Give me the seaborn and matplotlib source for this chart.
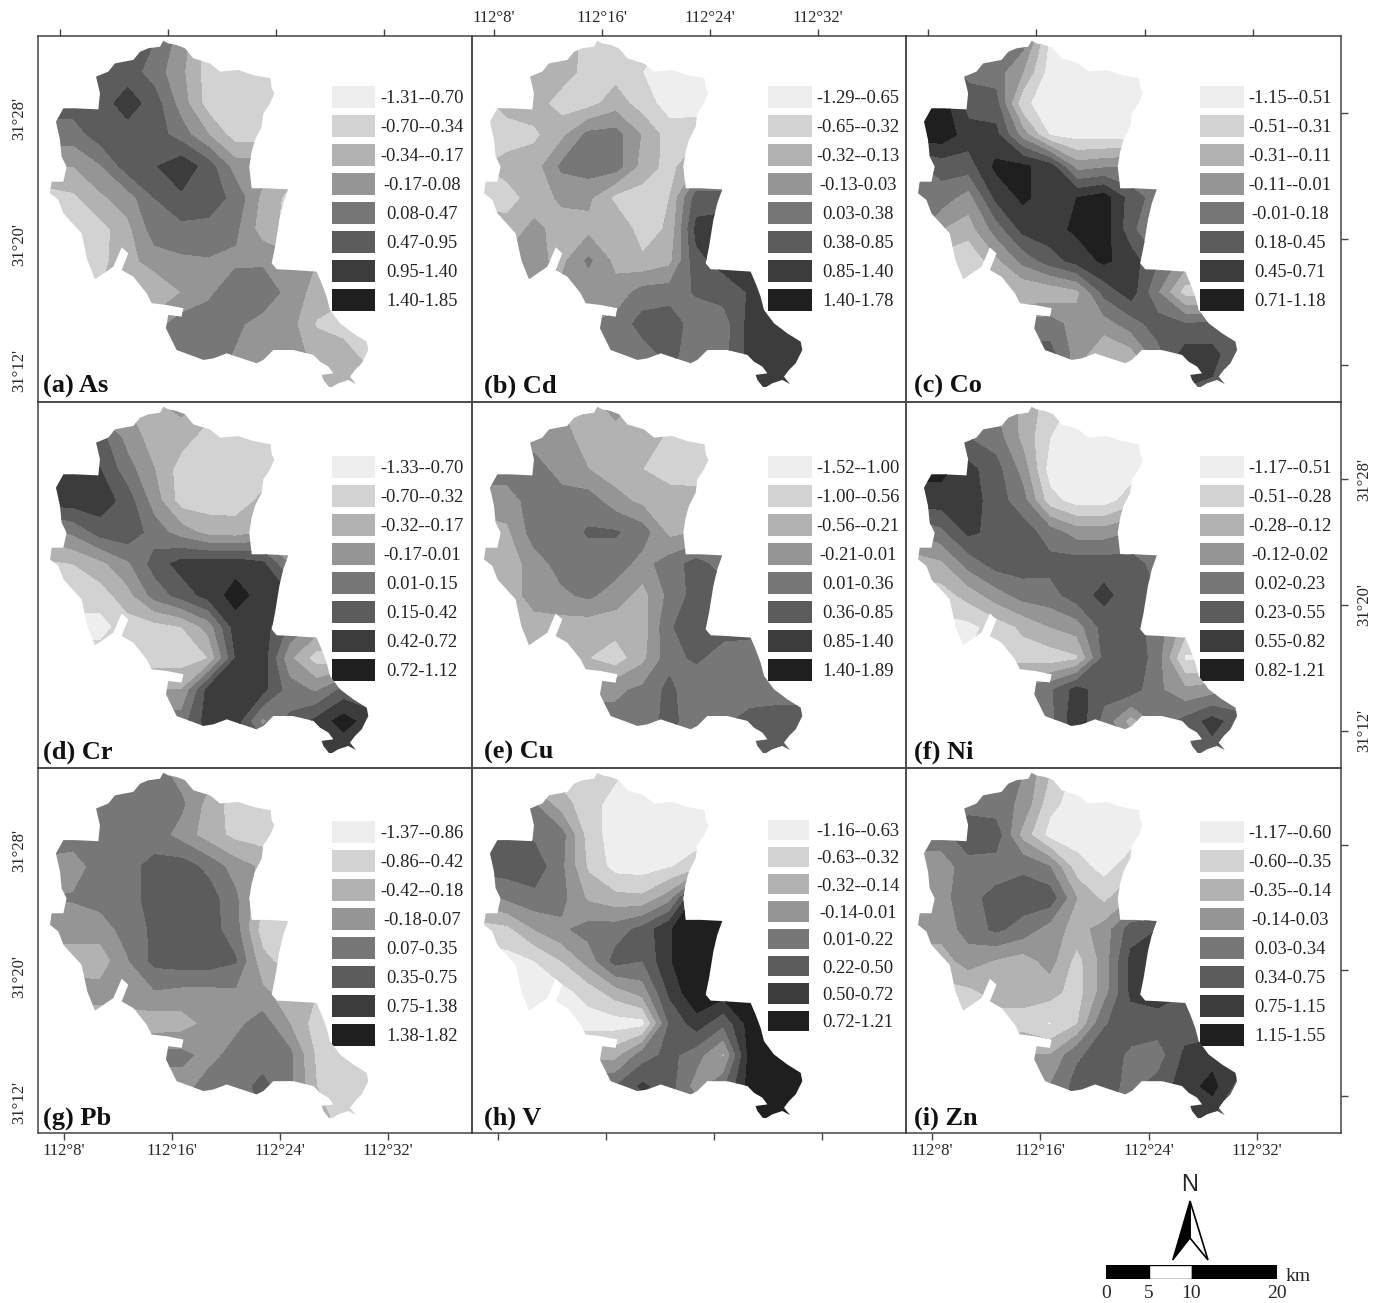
import numpy as np
import seaborn as sns
import matplotlib.pyplot as plt
from matplotlib.patches import Polygon

sns.set_style("white")
plt.rcParams['font.family'] = ['Liberation Serif', 'DejaVu Serif']

# outline of the study area, minutes past 112 deg E and 31 deg N
OUTLINE_LON = [15.65, 16.02, 16.64, 17.26, 17.88, 19.11, 19.85, 21.21, 22.32, 23.60, 23.68, 23.88, 23.56, 23.06,
               22.94, 22.44, 22.20, 22.02, 22.20, 23.31, 24.91, 24.54, 24.25, 23.93, 23.68, 24.05, 25.04, 27.01,
               27.38, 27.75, 28.00, 28.74, 29.73, 30.72, 30.84, 30.35, 29.85, 29.48, 29.93, 29.36, 28.62, 28.00,
               27.51, 27.38, 28.25, 27.88, 27.26, 26.77, 25.28, 23.80, 23.06, 22.57, 21.46, 20.35, 19.36, 18.62,
               17.63, 16.64, 16.15, 15.85, 16.02, 17.01, 17.14, 15.90, 14.79, 14.42, 13.43, 12.57, 13.06, 12.57,
               11.95, 10.59, 10.02, 9.60, 8.25, 7.88, 7.26, 7.38, 8.25, 8.49, 8.12, 8.00, 7.70, 8.25, 9.11, 10.84,
               10.96, 10.67, 11.58, 12.07, 13.43, 13.93, 14.54, 15.41]
OUTLINE_LAT = [32.97, 32.80, 32.70, 32.49, 31.85, 31.53, 31.01, 31.11, 30.79, 30.58, 29.95, 29.63, 28.99, 28.36,
               27.51, 26.67, 25.93, 24.97, 23.60, 23.60, 23.53, 22.65, 21.59, 19.89, 18.84, 18.46, 18.42, 18.31,
               17.57, 16.72, 15.88, 15.03, 14.39, 13.86, 13.33, 12.49, 12.06, 11.64, 11.17, 11.43, 11.22, 10.90,
               11.43, 11.75, 11.85, 12.28, 12.59, 13.02, 13.33, 13.33, 12.70, 12.49, 12.80, 13.12, 12.80, 12.70,
               13.02, 13.33, 14.18, 14.71, 15.56, 15.45, 15.98, 16.19, 16.30, 16.93, 17.99, 18.41, 19.47, 19.85,
               18.62, 17.82, 19.05, 20.74, 22.01, 22.86, 23.28, 24.02, 24.02, 24.97, 25.61, 26.67, 27.83, 28.68,
               28.68, 28.61, 29.63, 30.69, 31.01, 31.53, 31.75, 32.27, 32.49, 32.59]

GRID_LON = [7, 9, 11, 13, 15, 17, 19, 21, 23, 25, 27, 29, 31]
GRID_LAT = [33, 31, 29, 27, 25, 23, 21, 19, 17, 15, 13, 11]

# class value read at each grid node (class k of the legend covers k-1..k)
AS = [[5.5, 5.5, 5.5, 5.5, 5.0, 3.5, 1.5, 1.5, 1.5, 1.5, 1.5, 1.5, 1.5],
      [5.5, 5.5, 5.5, 5.5, 4.5, 3.2, 1.5, 1.5, 1.5, 1.5, 1.5, 1.5, 1.5],
      [5.5, 5.5, 5.5, 6.5, 5.5, 3.5, 1.5, 1.5, 1.5, 1.5, 1.5, 1.5, 1.5],
      [4.5, 4.5, 5.5, 5.5, 5.5, 4.5, 3.0, 1.5, 1.5, 1.5, 1.5, 1.5, 1.5],
      [3.0, 3.0, 3.9, 5.5, 5.9, 6.7, 5.5, 3.5, 3.5, 2.5, 2.5, 2.5, 2.5],
      [1.5, 1.8, 2.8, 3.5, 5.0, 5.8, 5.5, 4.7, 2.7, 1.7, 1.5, 1.5, 1.5],
      [1.5, 1.5, 1.6, 2.7, 4.5, 4.7, 4.7, 4.2, 2.5, 1.6, 1.5, 1.5, 1.5],
      [1.5, 1.5, 1.7, 2.6, 3.5, 3.8, 3.9, 3.8, 3.8, 3.5, 3.0, 3.0, 3.0],
      [2.0, 2.0, 2.0, 2.2, 2.0, 3.0, 3.8, 4.6, 4.7, 3.6, 2.6, 2.2, 2.0],
      [3.0, 3.0, 3.0, 3.2, 3.5, 4.5, 4.5, 4.2, 3.6, 3.4, 1.9, 1.6, 1.5],
      [4.0, 4.0, 4.0, 4.2, 4.4, 4.5, 4.5, 3.9, 3.6, 3.6, 2.6, 2.4, 1.6],
      [4.0, 4.0, 4.0, 4.2, 4.4, 4.5, 4.5, 3.9, 3.6, 3.6, 2.5, 2.5, 2.5]]
CD = [[2.5, 2.5, 2.5, 2.5, 1.7, 1.6, 1.5, 0.8, 0.8, 0.8, 0.8, 0.8, 0.8],
      [2.5, 2.5, 2.5, 2.5, 1.6, 1.6, 1.0, 0.5, 0.5, 0.5, 0.5, 0.5, 0.5],
      [1.6, 2.4, 2.5, 1.5, 1.6, 2.5, 1.5, 0.5, 0.6, 0.5, 0.5, 0.5, 0.5],
      [1.5, 1.5, 1.8, 2.7, 4.3, 4.4, 2.9, 1.5, 1.5, 1.5, 1.5, 1.5, 1.5],
      [1.9, 2.4, 2.5, 4.2, 4.5, 4.5, 2.6, 1.6, 3.0, 3.0, 3.0, 3.0, 3.0],
      [1.7, 1.6, 2.4, 3.2, 3.2, 1.7, 1.5, 2.0, 5.5, 5.5, 5.5, 5.5, 5.5],
      [2.4, 2.4, 3.3, 2.5, 2.7, 3.0, 1.4, 2.2, 6.3, 6.5, 6.5, 6.5, 6.5],
      [3.2, 3.2, 3.3, 2.7, 4.2, 2.7, 2.2, 2.7, 5.7, 6.4, 6.5, 6.5, 6.5],
      [3.3, 3.3, 3.3, 3.3, 3.3, 3.4, 4.4, 4.5, 5.1, 5.4, 6.1, 6.5, 6.5],
      [4.0, 4.0, 4.0, 4.0, 4.0, 4.3, 5.4, 5.6, 4.4, 4.5, 6.4, 6.5, 6.5],
      [4.4, 4.4, 4.4, 4.4, 4.4, 4.4, 4.5, 5.3, 4.4, 4.6, 6.4, 6.5, 6.5],
      [4.5, 4.5, 4.5, 4.5, 4.5, 4.5, 4.5, 4.5, 4.5, 5.5, 6.5, 6.5, 6.5]]
CO = [[5.5, 5.5, 5.5, 5.5, 4.5, 0.8, 0.5, 0.5, 0.5, 0.5, 0.5, 0.5, 0.5],
      [5.5, 5.5, 4.7, 4.5, 3.0, 0.5, 0.5, 0.5, 0.5, 0.5, 0.5, 0.5, 0.5],
      [7.5, 7.5, 5.5, 5.4, 1.2, 0.5, 0.5, 0.5, 0.5, 0.5, 0.5, 0.5, 0.5],
      [7.6, 7.6, 6.5, 6.3, 3.5, 0.9, 0.5, 0.5, 0.5, 0.5, 0.5, 0.5, 0.5],
      [4.7, 5.4, 5.5, 7.2, 7.2, 6.5, 3.5, 3.8, 4.0, 4.0, 4.0, 4.0, 4.0],
      [4.5, 4.5, 3.5, 6.2, 7.2, 6.5, 7.0, 7.5, 5.5, 4.5, 4.5, 4.5, 4.5],
      [4.5, 3.0, 2.5, 4.4, 6.3, 6.6, 7.2, 7.5, 5.3, 3.5, 3.5, 3.5, 3.5],
      [1.5, 1.5, 1.0, 2.7, 4.3, 5.5, 6.4, 7.2, 6.5, 5.0, 3.5, 3.0, 3.0],
      [1.5, 1.5, 1.5, 2.0, 2.0, 2.2, 2.7, 5.3, 6.5, 4.0, 1.5, 1.5, 1.5],
      [4.5, 4.5, 4.5, 4.5, 4.5, 4.5, 3.5, 3.5, 4.5, 5.5, 5.0, 5.2, 5.0],
      [5.4, 5.4, 5.4, 5.4, 5.4, 5.4, 3.5, 2.0, 2.5, 4.6, 6.5, 6.4, 5.0],
      [5.4, 5.4, 5.4, 5.4, 5.4, 5.4, 3.5, 2.5, 4.0, 5.0, 6.0, 5.8, 5.5]]
CR = [[3.0, 3.0, 3.0, 3.0, 2.8, 3.3, 2.5, 1.6, 1.6, 1.6, 1.6, 1.6, 1.6],
      [6.0, 6.0, 5.4, 3.6, 2.5, 2.4, 1.5, 1.5, 1.5, 1.5, 1.5, 1.5, 1.5],
      [6.5, 6.5, 6.0, 4.4, 3.0, 1.5, 1.5, 1.5, 1.5, 1.5, 1.5, 1.5, 1.5],
      [6.5, 6.5, 6.6, 5.5, 3.5, 1.5, 1.5, 1.5, 2.2, 2.2, 2.2, 2.2, 2.2],
      [3.5, 4.2, 5.4, 5.7, 4.5, 3.5, 2.6, 2.5, 3.0, 3.0, 3.0, 3.0, 3.0],
      [1.8, 2.0, 2.7, 3.8, 5.4, 6.4, 6.6, 6.6, 6.2, 4.0, 4.0, 4.0, 4.0],
      [1.5, 1.5, 1.5, 2.6, 4.4, 5.4, 6.4, 7.4, 6.6, 6.0, 6.0, 6.0, 6.0],
      [0.6, 0.6, 0.6, 1.5, 1.6, 2.0, 3.4, 6.5, 6.5, 4.8, 3.5, 3.5, 3.5],
      [1.5, 1.5, 1.5, 1.5, 1.5, 1.5, 2.0, 6.0, 6.6, 3.2, 1.5, 1.5, 1.5],
      [3.0, 3.0, 3.0, 3.0, 3.0, 3.0, 6.4, 6.6, 6.3, 4.5, 3.8, 5.3, 5.3],
      [4.5, 4.5, 4.5, 4.5, 4.5, 4.5, 6.5, 6.5, 3.7, 5.2, 6.3, 7.5, 6.4],
      [5.0, 5.0, 5.0, 5.0, 5.0, 5.0, 6.0, 6.0, 6.0, 6.0, 6.0, 6.0, 6.0]]
CU = [[3.0, 3.0, 3.0, 3.0, 2.5, 3.4, 2.5, 2.5, 2.5, 2.0, 2.0, 2.0, 2.0],
      [3.5, 3.5, 3.5, 3.5, 2.4, 2.5, 2.5, 1.8, 1.5, 1.5, 1.5, 1.5, 1.5],
      [4.5, 4.5, 4.5, 3.5, 3.0, 2.4, 2.0, 1.5, 1.5, 1.5, 1.5, 1.5, 1.5],
      [3.5, 3.5, 4.5, 4.5, 4.5, 3.4, 2.7, 2.5, 2.4, 2.4, 2.4, 2.4, 2.4],
      [2.5, 2.8, 4.5, 4.5, 5.1, 5.1, 4.5, 2.7, 3.0, 3.0, 3.0, 3.0, 3.0],
      [2.4, 2.4, 3.5, 4.4, 4.5, 4.5, 3.6, 4.5, 5.4, 4.5, 4.5, 4.5, 4.5],
      [2.4, 2.4, 3.5, 3.8, 4.2, 3.5, 2.6, 4.3, 5.4, 5.5, 5.5, 5.5, 5.5],
      [2.5, 2.5, 2.5, 2.5, 2.4, 2.4, 2.4, 4.9, 5.5, 5.5, 5.5, 5.0, 5.0],
      [2.5, 2.5, 2.5, 2.5, 2.0, 1.4, 2.7, 4.6, 5.2, 4.4, 4.2, 4.0, 4.0],
      [3.8, 3.8, 3.8, 3.8, 3.8, 3.8, 4.2, 5.3, 4.0, 4.4, 4.4, 4.5, 4.5],
      [4.3, 4.3, 4.3, 4.3, 4.3, 4.3, 4.5, 5.3, 4.4, 4.8, 5.4, 5.5, 5.5],
      [4.5, 4.5, 4.5, 4.5, 4.5, 4.5, 4.5, 4.5, 4.5, 5.0, 5.5, 5.5, 5.5]]
NI = [[5.0, 5.0, 5.0, 4.0, 2.7, 1.5, 0.7, 0.5, 0.5, 0.5, 0.5, 0.5, 0.5],
      [5.5, 5.5, 5.0, 4.5, 2.7, 1.0, 0.5, 0.5, 0.5, 0.5, 0.5, 0.5, 0.5],
      [7.3, 7.3, 6.3, 5.4, 3.6, 0.5, 0.5, 0.5, 0.5, 0.5, 0.5, 0.5, 0.5],
      [6.5, 6.5, 6.5, 5.5, 4.4, 1.4, 0.5, 0.5, 1.5, 1.5, 1.5, 1.5, 1.5],
      [4.0, 4.7, 6.2, 5.7, 5.5, 4.5, 3.5, 3.5, 4.0, 4.0, 4.0, 4.0, 4.0],
      [2.5, 2.8, 4.4, 5.4, 5.5, 5.3, 5.5, 5.5, 5.5, 4.5, 4.5, 4.5, 4.5],
      [1.5, 1.5, 2.4, 3.5, 4.4, 4.6, 5.5, 6.3, 5.4, 5.0, 5.0, 5.0, 5.0],
      [0.7, 0.7, 0.7, 1.4, 2.2, 3.0, 3.5, 5.4, 5.5, 4.5, 2.5, 2.0, 2.0],
      [1.0, 1.0, 1.0, 1.2, 1.5, 1.4, 1.8, 5.3, 5.9, 4.4, 0.8, 0.8, 0.8],
      [4.5, 4.5, 4.5, 4.5, 4.5, 4.8, 6.4, 5.4, 5.5, 4.2, 3.2, 3.5, 4.0],
      [4.5, 4.5, 4.5, 4.5, 4.5, 4.6, 6.8, 4.6, 2.5, 4.4, 5.3, 6.4, 5.4],
      [4.5, 4.5, 4.5, 4.5, 4.5, 4.5, 5.2, 4.5, 4.5, 4.5, 5.0, 5.5, 5.5]]
PB = [[4.5, 4.5, 4.5, 4.5, 4.5, 3.5, 3.5, 3.4, 2.5, 2.5, 2.5, 2.5, 2.5],
      [4.5, 4.5, 4.5, 4.5, 4.4, 4.2, 2.6, 1.5, 1.5, 1.5, 1.5, 1.5, 1.5],
      [4.5, 4.5, 4.5, 4.5, 4.5, 3.6, 2.5, 1.7, 1.5, 1.5, 1.5, 1.5, 1.5],
      [3.7, 3.5, 4.5, 4.7, 5.3, 5.5, 4.7, 3.5, 2.8, 2.8, 2.8, 2.8, 2.8],
      [4.0, 4.1, 4.4, 4.6, 5.4, 5.5, 5.5, 4.2, 2.0, 2.0, 2.0, 2.0, 2.0],
      [3.4, 3.4, 3.5, 4.4, 5.2, 5.5, 5.5, 4.4, 1.5, 1.5, 1.5, 1.5, 1.5],
      [2.5, 2.5, 2.4, 3.9, 5.3, 5.5, 5.5, 5.1, 2.3, 1.5, 1.5, 1.5, 1.5],
      [3.4, 3.4, 3.4, 3.6, 3.9, 3.7, 3.7, 3.8, 3.2, 2.5, 2.0, 2.0, 2.0],
      [2.4, 2.4, 2.4, 2.4, 2.4, 2.5, 3.3, 3.7, 4.5, 3.0, 1.5, 1.5, 1.5],
      [4.3, 4.3, 4.3, 4.3, 4.3, 4.3, 3.6, 4.4, 4.5, 4.3, 1.8, 1.5, 1.5],
      [3.5, 3.5, 3.5, 3.5, 3.5, 3.5, 4.5, 4.5, 5.3, 4.3, 2.0, 1.5, 1.5],
      [4.0, 4.0, 4.0, 4.0, 4.0, 4.0, 4.5, 4.5, 5.0, 4.0, 2.5, 1.5, 1.5]]
V = [[1.5, 1.5, 1.5, 1.5, 1.5, 1.2, 0.5, 0.5, 0.5, 0.5, 0.5, 0.5, 0.5],
     [4.0, 4.0, 4.0, 2.4, 1.4, 0.6, 0.5, 0.5, 0.5, 0.5, 0.5, 0.5, 0.5],
     [5.6, 5.6, 4.8, 4.4, 1.5, 0.5, 0.5, 0.5, 0.5, 0.5, 0.5, 0.5, 0.5],
     [5.5, 5.5, 5.6, 4.2, 1.8, 0.6, 0.5, 0.9, 1.5, 1.5, 1.5, 1.5, 1.5],
     [3.5, 4.2, 4.7, 4.3, 2.8, 2.3, 2.2, 3.5, 7.5, 7.5, 7.5, 7.5, 7.5],
     [1.5, 1.7, 3.0, 3.8, 4.4, 4.5, 5.3, 6.9, 7.9, 7.5, 7.5, 7.5, 7.5],
     [0.6, 0.6, 1.0, 2.0, 3.4, 5.4, 5.0, 6.9, 7.9, 7.5, 7.5, 7.5, 7.5],
     [0.5, 0.5, 0.5, 0.6, 1.4, 2.5, 3.4, 6.2, 7.9, 7.5, 7.5, 7.5, 7.5],
     [0.5, 0.5, 0.5, 0.5, 0.5, 0.5, 0.6, 5.1, 6.5, 5.2, 7.5, 7.5, 7.5],
     [2.6, 2.6, 2.6, 2.6, 2.6, 2.6, 4.5, 5.3, 4.4, 2.8, 7.5, 7.5, 7.5],
     [5.0, 5.0, 5.0, 5.0, 5.0, 5.0, 6.2, 5.4, 3.5, 4.8, 7.5, 7.5, 7.5],
     [5.0, 5.0, 5.0, 5.0, 5.0, 5.0, 5.0, 5.0, 5.0, 6.0, 7.5, 7.5, 7.5]]
ZN = [[4.5, 4.5, 4.5, 4.5, 4.0, 2.0, 0.7, 0.5, 0.5, 0.5, 0.5, 0.5, 0.5],
      [4.5, 4.5, 4.5, 4.4, 3.8, 1.3, 0.5, 0.5, 0.5, 0.5, 0.5, 0.5, 0.5],
      [4.5, 4.5, 5.8, 5.6, 2.6, 0.6, 0.5, 0.5, 0.5, 0.5, 0.5, 0.5, 0.5],
      [3.5, 3.5, 4.5, 4.5, 4.8, 4.0, 1.4, 0.6, 1.5, 1.5, 1.5, 1.5, 1.5],
      [3.5, 3.6, 4.7, 5.3, 5.5, 5.6, 3.0, 1.7, 3.0, 3.0, 3.0, 3.0, 3.0],
      [3.4, 3.4, 4.4, 5.2, 4.6, 3.5, 2.6, 3.4, 5.5, 6.0, 6.0, 6.0, 6.0],
      [2.5, 2.5, 3.5, 2.9, 2.5, 3.4, 1.6, 3.4, 6.3, 6.5, 6.5, 6.5, 6.5],
      [1.7, 1.7, 1.7, 2.4, 2.4, 2.4, 1.5, 3.5, 6.2, 6.5, 6.0, 6.0, 6.0],
      [1.6, 1.6, 1.6, 1.6, 1.6, 0.9, 1.9, 4.9, 5.5, 5.5, 5.5, 5.5, 5.5],
      [3.0, 3.0, 3.0, 3.0, 3.0, 3.0, 4.8, 5.5, 4.8, 4.5, 6.2, 6.5, 6.5],
      [4.0, 4.0, 4.0, 4.0, 4.0, 4.0, 5.4, 5.4, 4.7, 5.4, 6.5, 7.4, 5.5],
      [4.0, 4.0, 4.0, 4.0, 4.0, 4.0, 5.0, 5.0, 5.0, 5.5, 6.0, 6.0, 5.5]]

PANEL_NAMES = ["(a) As", "(b) Cd", "(c) Co", "(d) Cr", "(e) Cu", "(f) Ni", "(g) Pb", "(h) V", "(i) Zn"]
PANEL_GRIDS = [AS, CD, CO, CR, CU, NI, PB, V, ZN]
LEGENDS = [
    ["-1.31--0.70", "-0.70--0.34", "-0.34--0.17", "-0.17-0.08", "0.08-0.47", "0.47-0.95", "0.95-1.40", "1.40-1.85"],
    ["-1.29--0.65", "-0.65--0.32", "-0.32--0.13", "-0.13-0.03", "0.03-0.38", "0.38-0.85", "0.85-1.40", "1.40-1.78"],
    ["-1.15--0.51", "-0.51--0.31", "-0.31--0.11", "-0.11--0.01", "-0.01-0.18", "0.18-0.45", "0.45-0.71", "0.71-1.18"],
    ["-1.33--0.70", "-0.70--0.32", "-0.32--0.17", "-0.17-0.01", "0.01-0.15", "0.15-0.42", "0.42-0.72", "0.72-1.12"],
    ["-1.52--1.00", "-1.00--0.56", "-0.56--0.21", "-0.21-0.01", "0.01-0.36", "0.36-0.85", "0.85-1.40", "1.40-1.89"],
    ["-1.17--0.51", "-0.51--0.28", "-0.28--0.12", "-0.12-0.02", "0.02-0.23", "0.23-0.55", "0.55-0.82", "0.82-1.21"],
    ["-1.37--0.86", "-0.86--0.42", "-0.42--0.18", "-0.18-0.07", "0.07-0.35", "0.35-0.75", "0.75-1.38", "1.38-1.82"],
    ["-1.16--0.63", "-0.63--0.32", "-0.32--0.14", "-0.14-0.01", "0.01-0.22", "0.22-0.50", "0.50-0.72", "0.72-1.21"],
    ["-1.17--0.60", "-0.60--0.35", "-0.35--0.14", "-0.14-0.03", "0.03-0.34", "0.34-0.75", "0.75-1.15", "1.15-1.55"],
]

LON_TICKS = [8, 16, 24, 32]
LON_LABELS = ["112°8'", "112°16'", "112°24'", "112°32'"]
LAT_TICKS = [28, 20, 12]
LAT_LABELS = ["31°28'", "31°20'", "31°12'"]

SCALE_KM = [0, 5, 10, 20]
SCALE_FILL = ["black", "white", "black"]

GREYS = sns.color_palette(["#eeeeee", "#d2d2d2", "#b2b2b2", "#959595", "#777777", "#5c5c5c", "#3c3c3c", "#1f1f1f"])
FRAME = "#444444"
W, H = 1380, 1303


def px_axes(x0, y0, x1, y1):
    return fig.add_axes([x0 / W, 1 - y1 / H, (x1 - x0) / W, (y1 - y0) / H])


fig = plt.figure(figsize=(13.8, 13.03), dpi=100)
col_x = [38, 472, 906, 1341]
row_y = [36, 402, 768, 1133]
legend_tops = [49, 53, 52]

for i, (name, grid, labels) in enumerate(zip(PANEL_NAMES, PANEL_GRIDS, LEGENDS)):
    row, col = divmod(i, 3)
    ax = px_axes(col_x[col], row_y[row], col_x[col + 1], row_y[row + 1])
    ax.set_zorder(2)
    ax.patch.set_visible(False)
    ax.set_xlim(6.37, 38.52)
    ax.set_ylim(10.03, 33.27)
    poly = Polygon(np.column_stack([OUTLINE_LON, OUTLINE_LAT]), closed=True, fc="none", ec="none",
                   transform=ax.transData)
    ax.add_patch(poly)
    cs = ax.contourf(GRID_LON, GRID_LAT, np.array(grid), levels=np.arange(9), colors=GREYS)
    cs.set_clip_path(poly)

    # ticks only on the outer sides
    ax.tick_params(which="both", length=5, width=1, color=FRAME, labelsize=12, pad=2.5)
    ax.set_xticks([])
    ax.set_yticks([])
    if row == 0:
        ax.xaxis.tick_top()
        ax.set_xticks(LON_TICKS)
        ax.set_xticklabels(LON_LABELS if col == 1 else [])
    if row == 2:
        ax.xaxis.tick_bottom()
        ax.set_xticks([t + 0.3 for t in LON_TICKS])
        ax.set_xticklabels(LON_LABELS if col != 1 else [])
    if col == 0:
        ax.set_yticks(LAT_TICKS)
        ax.set_yticklabels(LAT_LABELS if row != 1 else [], rotation=90, va="center")
    if col == 2:
        ax.yaxis.tick_right()
        ax.tick_params(axis="y", pad=6)
        ax.set_yticks([t + 0.38 for t in LAT_TICKS])
        ax.set_yticklabels(LAT_LABELS if row == 1 else [], rotation=90, va="center")
    for spine in ax.spines.values():
        spine.set_visible(True)
        spine.set_color(FRAME)
        spine.set_linewidth(1.1)

    pw = col_x[col + 1] - col_x[col]
    ph = row_y[row + 1] - row_y[row]
    ax.text([5, 12, 8][col] / pw, 1 - 357 / ph, name, transform=ax.transAxes, fontsize=19,
            fontweight="bold", va="baseline", ha="left", color="#111111")

    # legend swatches
    top = legend_tops[row]
    step = 29
    sx0, sx1 = [293, 295, 293][col], [336, 339, 337][col]
    cx = [384, 386, 384][col]
    if name == "(h) V":
        top, step, sx1 = 51, 27.3, 336
    lax = px_axes(col_x[col] + sx0 - 3.5, row_y[row] + top - 3.5,
                  col_x[col] + sx1 + 3.5, row_y[row] + top - 3.5 + 8 * step)
    lax.set_zorder(1)
    sns.heatmap(np.arange(8).reshape(-1, 1), cmap=GREYS, cbar=False, linewidths=5, linecolor="white",
                xticklabels=False, yticklabels=False, ax=lax)
    for j, lab in enumerate(labels):
        ax.text(cx / pw, 1 - (top - 1 + (j + 0.5) * step) / ph, lab, transform=ax.transAxes,
                fontsize=13.3, ha="center", va="center", color="#222222")

# scale bar, axis runs in km
sax = px_axes(1106, 1265, 1277, 1279)
sax.barh([0] * 3, np.diff(SCALE_KM), left=SCALE_KM[:-1], height=1, color=SCALE_FILL, edgecolor="black", linewidth=1)
sax.set_xlim(SCALE_KM[0], SCALE_KM[-1])
sax.set_ylim(-0.5, 0.5)
sax.axis("off")
for km in SCALE_KM:
    sax.annotate(str(km), (km, -0.5), xytext=(0, -4), textcoords="offset points", ha="center", va="top",
                 fontsize=14, annotation_clip=False)
sax.annotate("km", (20, 0), xytext=(15, -3), textcoords="offset points", ha="center", va="center",
             fontsize=14, annotation_clip=False)

# north arrow, drawn on a full-figure layer in pixel units
nax = px_axes(0, 0, W, H)
nax.set_xlim(0, W)
nax.set_ylim(H, 0)
nax.axis("off")
nax.patch.set_alpha(0)
nax.add_patch(Polygon([(1190, 1201), (1208, 1260), (1190, 1238)], closed=True, fc="white", ec="black", lw=1.2))
nax.add_patch(Polygon([(1190, 1201), (1172.7, 1260), (1190, 1238)], closed=True, fc="black", ec="black", lw=1))
nax.text(1190, 1185, "N", fontsize=17, ha="center", va="center", family="Liberation Sans")

fig.savefig("out.png", dpi=100)
